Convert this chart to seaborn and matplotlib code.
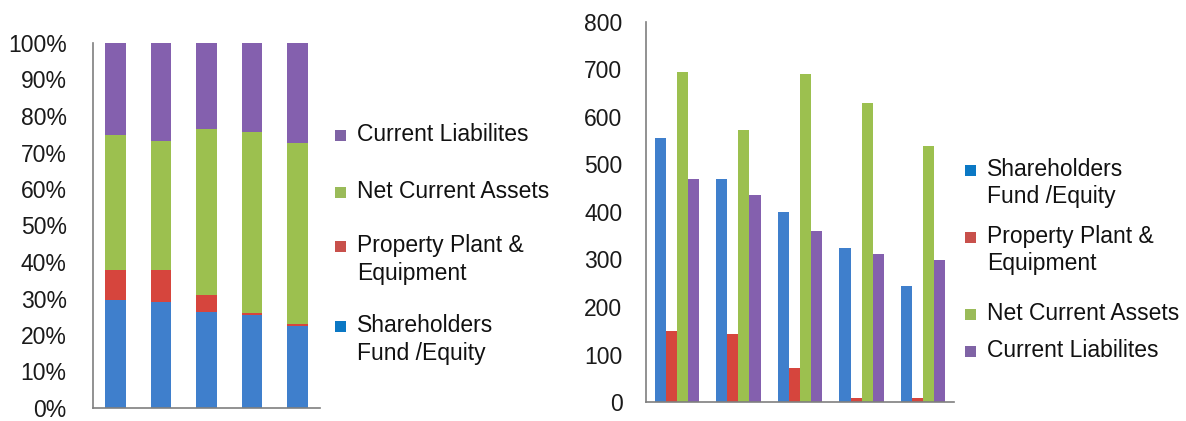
import pandas as pd
import matplotlib
matplotlib.use('Agg')
import matplotlib.pyplot as plt
from matplotlib.patches import Rectangle
import seaborn as sns

# five periods, no labels shown on the x axis
periods = ['1', '2', '3', '4', '5']
shareholders = [555, 470, 400, 325, 245]
ppe = [150, 143, 72, 8, 8]
net_current = [695, 572, 690, 630, 540]
current_liab = [470, 435, 360, 312, 300]

series_names = ['Shareholders\nFund /Equity', 'Property Plant &\nEquipment',
                'Net Current Assets', 'Current Liabilites']
bar_colors = ['#3f7fcc', '#d6453d', '#9cc04f', '#8460ae']
legend_colors = ['#0b78c4', '#c8504b', '#9abb59', '#7f63a5']

df = pd.DataFrame({'period': periods,
                   series_names[0]: shareholders,
                   series_names[1]: ppe,
                   series_names[2]: net_current,
                   series_names[3]: current_liab})
long = df.melt(id_vars='period', var_name='series', value_name='value')

# shares for the 100% stacked chart
share = df.set_index('period')
share = share.div(share.sum(axis=1), axis=0)
cum = share.cumsum(axis=1)

sns.set_style('white')
plt.rcParams['font.family'] = ['Liberation Sans', 'DejaVu Sans']
plt.rcParams['font.size'] = 16.5

W, H = 1186, 421
fig = plt.figure(figsize=(W / 100, H / 100), dpi=100)


def px_axes(x0, y0, x1, y1):
    return fig.add_axes([x0 / W, 1 - y1 / H, (x1 - x0) / W, (y1 - y0) / H])


ax1 = px_axes(93, 43, 320, 408)
ax2 = px_axes(646, 22, 954, 402)

# left: stacked 100% columns, draw cumulative totals from top series down
for i in range(3, -1, -1):
    name = series_names[i]
    sns.barplot(x=cum.index, y=cum[name].values, color=bar_colors[i],
                width=0.45, saturation=1, linewidth=0, ax=ax1)

ax1.set_ylim(0, 1)
ax1.set_yticks([i / 10 for i in range(11)])
ax1.set_yticklabels([f'{i * 10}%' for i in range(11)])

# right: grouped columns
sns.barplot(data=long, x='period', y='value', hue='series',
            hue_order=series_names, palette=bar_colors, width=0.72,
            saturation=1, linewidth=0, ax=ax2, legend=False)
ax2.set_ylim(0, 800)
ax2.set_yticks(range(0, 801, 100))

for ax, pad in ((ax1, 14), (ax2, 12)):
    ax.set_xlim(-0.5, 4.5)
    ax.set_xticks([i - 0.5 for i in range(6)])
    ax.set_xticklabels([])
    ax.set_xlabel('')
    ax.set_ylabel('')
    for s in ('top', 'right'):
        ax.spines[s].set_visible(False)
    for s in ('left', 'bottom'):
        ax.spines[s].set_color('#7f7f7f')
        ax.spines[s].set_linewidth(1.2)
    ax.tick_params(axis='x', direction='out', length=8, width=1.2, colors='#7f7f7f')
    ax.tick_params(axis='y', direction='out', length=5, width=1.2, colors='#7f7f7f',
                   labelcolor='#1a1a1a', labelsize=16.5, pad=pad)


# legends: square sits on the baseline of the first label line
def legend_entries(names, colors, x_sq, x_txt, baselines, step=28):
    for name, c, yb in zip(names, colors, baselines):
        fig.patches.append(Rectangle((x_sq / W, 1 - yb / H), 11 / W, 11 / H,
                                     transform=fig.transFigure,
                                     facecolor=c, edgecolor='none'))
        for k, line in enumerate(name.split('\n')):
            fig.text(x_txt / W, 1 - (yb + k * step) / H, line, ha='left',
                     va='baseline', fontsize=16.5, color='#111111')


legend_entries(series_names[::-1], legend_colors[::-1], 335, 357,
               [141, 198, 252, 332])
legend_entries(series_names, legend_colors, 965, 987,
               [176, 243, 320, 357], step=27)

fig.savefig('out.png', dpi=100)
